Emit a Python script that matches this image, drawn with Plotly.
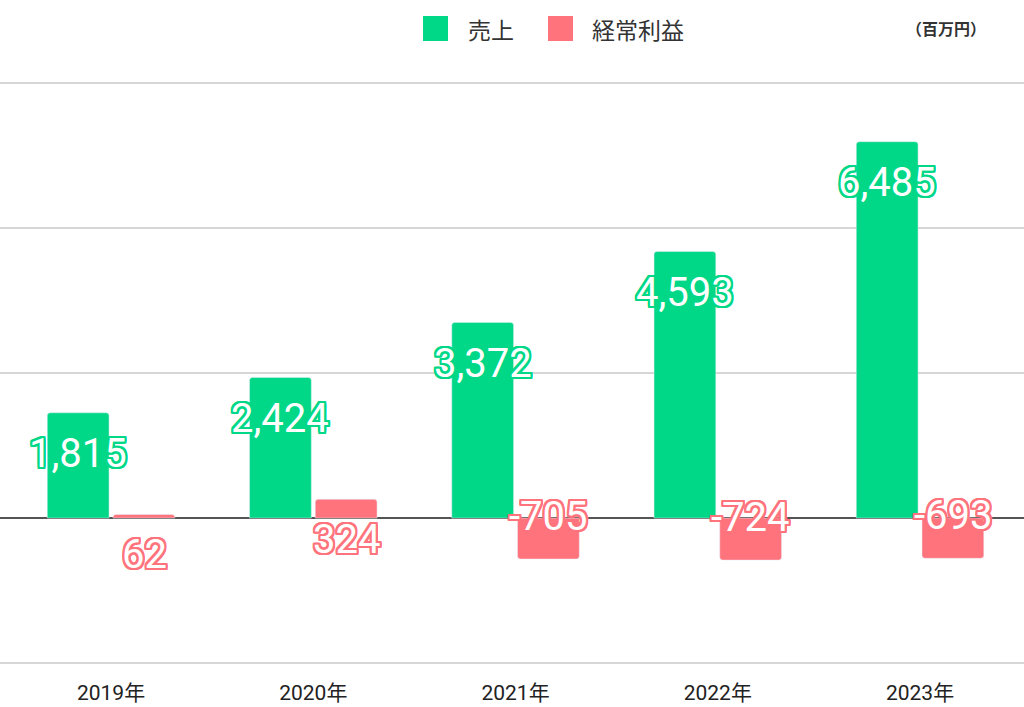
import plotly.graph_objects as go

years = ["2019年", "2020年", "2021年", "2022年", "2023年"]
sales = [1815, 2424, 3372, 4593, 6485]
profit = [62, 324, -705, -724, -693]
series_names = ["売上", "経常利益"]
unit_label = "（百万円）"

GREEN = "#00D887"
PINK = "#FF737D"


def outline(c, w=2):
    parts = []
    for dx, dy in [(w, 0), (-w, 0), (0, w), (0, -w), (w, w), (-w, -w), (w, -w), (-w, w),
                   (1, 2), (2, 1), (-1, 2), (-2, 1), (1, -2), (2, -1), (-1, -2), (-2, -1)]:
        parts.append(f"{dx}px {dy}px 0 {c}")
    return ", ".join(parts)


fig = go.Figure()
fig.add_bar(x=years, y=sales, name=series_names[0], marker_color=GREEN,
            marker_cornerradius=3, showlegend=False)
fig.add_bar(x=years, y=profit, name=series_names[1], marker_color=PINK,
            marker_cornerradius=3, showlegend=False)

LABEL_FONT = dict(family="Roboto", size=40)
annotations = []
for yr, v in zip(years, sales):
    annotations.append(dict(x=yr, y=v, xref="x", yref="y", text=f"{v:,}", showarrow=False,
                            xshift=-33, yshift=-41 if v >= 0 else 41, yanchor="middle",
                            font=dict(**LABEL_FONT, color="white", shadow=outline(GREEN))))
for yr, v in zip(years, profit):
    annotations.append(dict(x=yr, y=v, xref="x", yref="y", text=f"{v:,}", showarrow=False,
                            xshift=33, yshift=-40 if v >= 0 else 43, yanchor="middle",
                            font=dict(**LABEL_FONT, color="white", shadow=outline(PINK))))

# manual legend (pixel positions converted to paper fractions)
TOP, BOT = 77, 38
PH = 707 - TOP - BOT


def py(pix):
    return 1 + (TOP - pix) / PH


legend_items = [(series_names[0], GREEN, 423, 466), (series_names[1], PINK, 548, 590)]
shapes = []
for name, col, px, tx in legend_items:
    shapes.append(dict(type="rect", xref="paper", yref="paper", x0=px / 1024, x1=(px + 25) / 1024,
                       y0=py(41), y1=py(16),
                       fillcolor=col, line=dict(width=0), layer="above"))
    annotations.append(dict(xref="paper", yref="paper", x=tx / 1024,
                            y=py(29), xanchor="left", yanchor="middle",
                            text=name, showarrow=False,
                            font=dict(family="Noto Sans CJK JP", size=23, color="#333333")))
annotations.append(dict(xref="paper", yref="paper", x=904 / 1024, y=py(28),
                        xanchor="left", yanchor="middle", text=unit_label, showarrow=False,
                        font=dict(family="Noto Sans CJK JP", size=16, color="#333333",
                                  weight="bold")))

fig.update_layout(
    width=1024, height=707,
    margin=dict(l=0, r=0, t=TOP, b=BOT, autoexpand=False),
    paper_bgcolor="white", plot_bgcolor="white",
    barmode="group", bargap=0.35, bargroupgap=0.06,
    annotations=annotations, shapes=shapes,
    showlegend=False,
    xaxis=dict(range=[-0.549, 4.514], showgrid=False, zeroline=False, ticks="",
               ticklabelstandoff=9, automargin=False,
               tickfont=dict(family="Roboto, Noto Sans CJK JP", size=21, color="#222222")),
    yaxis=dict(range=[-2600, 7600], tickvals=[-2500, 2500, 5000, 7500], showticklabels=False,
               automargin=False,
               gridcolor="#D6D6D6", gridwidth=1.5, zeroline=True,
               zerolinecolor="#555555", zerolinewidth=2, fixedrange=True),
)

fig.write_html("out.html")
